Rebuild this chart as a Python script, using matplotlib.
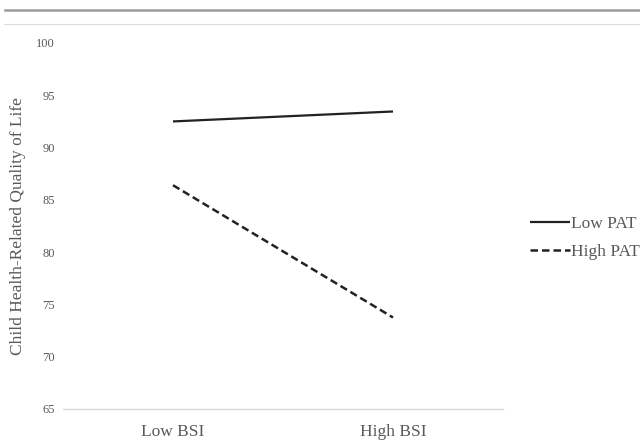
import matplotlib
matplotlib.use("Agg")
import matplotlib.pyplot as plt
from matplotlib.lines import Line2D

categories = ["Low BSI", "High BSI"]
low_pat = [92.5, 93.45]
high_pat = [86.4, 73.75]
series_labels = ["Low PAT", "High PAT"]
yticks = [65, 70, 75, 80, 85, 90, 95, 100]

plt.rcParams['font.family'] = ['Liberation Serif', 'DejaVu Serif']
txt = '#595959'

fig = plt.figure(figsize=(6.4, 4.45), dpi=100)
ax = fig.add_axes([63/640, 36/445, 440/640, 366/445])

x = [0, 1]
ax.plot(x, low_pat, color='#222222', lw=1.6, solid_capstyle='butt', label=series_labels[0])
ax.plot(x, high_pat, color='#222222', lw=1.8, linestyle=(0, (3, 1.6)), label=series_labels[1])

ax.set_xlim(-0.5, 1.5)
ax.set_ylim(65, 100)
ax.set_xticks(x)
ax.set_xticklabels(categories, fontsize=12.5, color=txt)
ax.set_yticks(yticks)
ax.set_yticklabels([str(v) for v in yticks], fontsize=9, color=txt)
ax.tick_params(axis='y', length=0, pad=6)
ax.tick_params(axis='x', length=0, pad=11)
for s in ['top', 'right', 'left']:
    ax.spines[s].set_visible(False)
ax.spines['bottom'].set_color('#d9d9d9')
ax.spines['bottom'].set_linewidth(1.0)
ax.set_ylabel("Child Health-Related Quality of Life", fontsize=12.5, color=txt)
ax.yaxis.set_label_coords((26 - 63) / 440, 0.5)

leg = fig.legend(loc='center left', bbox_to_anchor=(530/640, 1 - 238/445), frameon=False,
                 fontsize=12.5, handlelength=2.3, handletextpad=0.05, labelspacing=0.72,
                 borderaxespad=0, borderpad=0)
for t in leg.get_texts():
    t.set_color(txt)

# top decorative lines
fig.add_artist(Line2D([5/640, 1], [1 - 10/445, 1 - 10/445], transform=fig.transFigure,
                      color='#9a9a9a', lw=1.8))
fig.add_artist(Line2D([4/640, 1], [1 - 24/445, 1 - 24/445], transform=fig.transFigure,
                      color='#dcdcdc', lw=0.8))

fig.savefig("out.png", dpi=100)
